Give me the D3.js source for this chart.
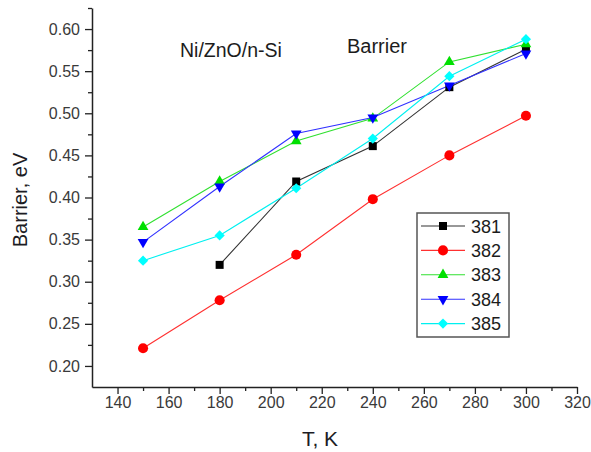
<!DOCTYPE html>
<html>
<head>
<meta charset="utf-8">
<script src="https://cdn.jsdelivr.net/npm/d3@7"></script>
<style>
  body { margin: 0; background: #fff; }
  text { font-family: "Liberation Sans", Arial, sans-serif; }
</style>
</head>
<body>
<svg id="viz" width="591" height="452"></svg>
<script>
// temperatures (K)
const temps = [150, 180, 210, 240, 270, 300];
const sampleNames = ["381", "382", "383", "384", "385"];
// barrier height (eV) per sample, null = no measurement
const s381 = [null, 0.320, 0.419, 0.461, 0.531, 0.576];
const s382 = [0.221, 0.278, 0.332, 0.398, 0.450, 0.497];
const s383 = [0.365, 0.419, 0.467, 0.494, 0.561, 0.582];
const s384 = [0.347, 0.413, 0.476, 0.495, 0.533, 0.571];
const s385 = [0.325, 0.355, 0.411, 0.470, 0.544, 0.588];
const xTicks = [140, 160, 180, 200, 220, 240, 260, 280, 300, 320];
const yTicks = [0.20, 0.25, 0.30, 0.35, 0.40, 0.45, 0.50, 0.55, 0.60];

const series = [s381, s382, s383, s384, s385];
const colors = ["#000000", "#ff0000", "#00e000", "#0000ff", "#00ffff"];
const lineColors = ["#333333", "#ff3030", "#30e030", "#3030ff", "#00f0f0"];

const svg = d3.select("#viz");

const x = d3.scaleLinear().domain([130, 320]).range([92, 577]);
const y = d3.scaleLinear().domain([0.175, 0.625]).range([387, 8]);

// marker shapes
function marker(i) {
    if (i == 0) return { type: d3.symbolSquare, size: 64, rot: 0 };
    if (i == 1) return { type: d3.symbolCircle, size: 80, rot: 0 };
    if (i == 2) return { type: d3.symbolTriangle, size: 50, rot: 0 };
    if (i == 3) return { type: d3.symbolTriangle, size: 50, rot: 180 };
    return { type: d3.symbolSquare, size: 52, rot: 45 };
}

// minor ticks
svg.append("g")
    .attr("transform", "translate(0,387)")
    .call(d3.axisBottom(x).tickValues(d3.range(150, 320, 20)).tickSize(4).tickFormat(""))
    .call(g => g.select(".domain").remove())
    .selectAll("line").attr("stroke", "#222").attr("stroke-width", 1.3);
svg.append("g")
    .attr("transform", "translate(92,0)")
    .call(d3.axisLeft(y).tickValues(d3.range(0.225, 0.63, 0.05)).tickSize(4).tickFormat(""))
    .call(g => g.select(".domain").remove())
    .selectAll("line").attr("stroke", "#222").attr("stroke-width", 1.3);

// major axes
const xAxis = svg.append("g")
    .attr("transform", "translate(0,387)")
    .call(d3.axisBottom(x).tickValues(xTicks).tickSize(7).tickSizeOuter(0).tickPadding(3));
const yAxis = svg.append("g")
    .attr("transform", "translate(92,0)")
    .call(d3.axisLeft(y).tickValues(yTicks).tickSize(7).tickSizeOuter(0).tickPadding(5).tickFormat(d3.format(".2f")));

[xAxis, yAxis].forEach(a => {
    a.select(".domain").attr("stroke", "#222").attr("stroke-width", 1.5);
    a.selectAll(".tick line").attr("stroke", "#222").attr("stroke-width", 1.3);
    a.selectAll(".tick text")
        .attr("fill", "#3a3a3a")
        .style("font-size", "16px")
        .style("font-family", "'Liberation Sans', Arial, sans-serif");
});

// axis titles
svg.append("text").text("T, K")
    .attr("x", 320).attr("y", 446)
    .attr("text-anchor", "middle")
    .style("font-size", "21px").attr("fill", "#1c1c24");
svg.append("text").text("Barrier, eV")
    .attr("transform", "translate(27,200) rotate(-90)")
    .attr("text-anchor", "middle")
    .style("font-size", "20px").attr("fill", "#1c1c24");

// annotations
svg.append("text").text("Ni/ZnO/n-Si")
    .attr("x", 180).attr("y", 57)
    .style("font-size", "19.5px").attr("fill", "#1c1c1c");
svg.append("text").text("Barrier")
    .attr("x", 347).attr("y", 53)
    .style("font-size", "20px").attr("fill", "#1c1c1c");

// lines
const line = d3.line()
    .defined(d => d[1] != null)
    .x(d => x(d[0]))
    .y(d => y(d[1]));

series.forEach(function (vals, i) {
    let pts = temps.map((t, j) => [t, vals[j]]);
    svg.append("path")
        .datum(pts)
        .attr("d", line)
        .attr("fill", "none")
        .attr("stroke", lineColors[i])
        .attr("stroke-width", 1.1);
});

series.forEach(function (vals, i) {
    let m = marker(i);
    let pts = temps.map((t, j) => [t, vals[j]]).filter(d => d[1] != null);
    svg.append("g").selectAll("path")
        .data(pts)
        .join("path")
        .attr("d", d3.symbol().type(m.type).size(m.size))
        .attr("transform", d => "translate(" + x(d[0]) + "," + y(d[1]) + ") rotate(" + m.rot + ")")
        .attr("fill", colors[i]);
});

// legend
const legend = svg.append("g").attr("transform", "translate(417,213)");
legend.append("rect")
    .attr("x", 0).attr("y", 0)
    .attr("width", 92).attr("height", 124)
    .attr("fill", "#fff")
    .attr("stroke", "#555")
    .attr("stroke-width", 1.5);

sampleNames.forEach(function (name, i) {
    let ly = 13 + i * 24.4;
    let m = marker(i);
    legend.append("line")
        .attr("x1", 4).attr("x2", 48)
        .attr("y1", ly).attr("y2", ly)
        .attr("stroke", lineColors[i]).attr("stroke-width", 1.1);
    legend.append("path")
        .attr("d", d3.symbol().type(m.type).size(m.size))
        .attr("transform", "translate(26," + ly + ") rotate(" + m.rot + ")")
        .attr("fill", colors[i]);
    legend.append("text").text(name)
        .attr("x", 54).attr("y", ly + 6.5)
        .style("font-size", "18px").attr("fill", "#1c1c1c");
});
</script>
</body>
</html>
